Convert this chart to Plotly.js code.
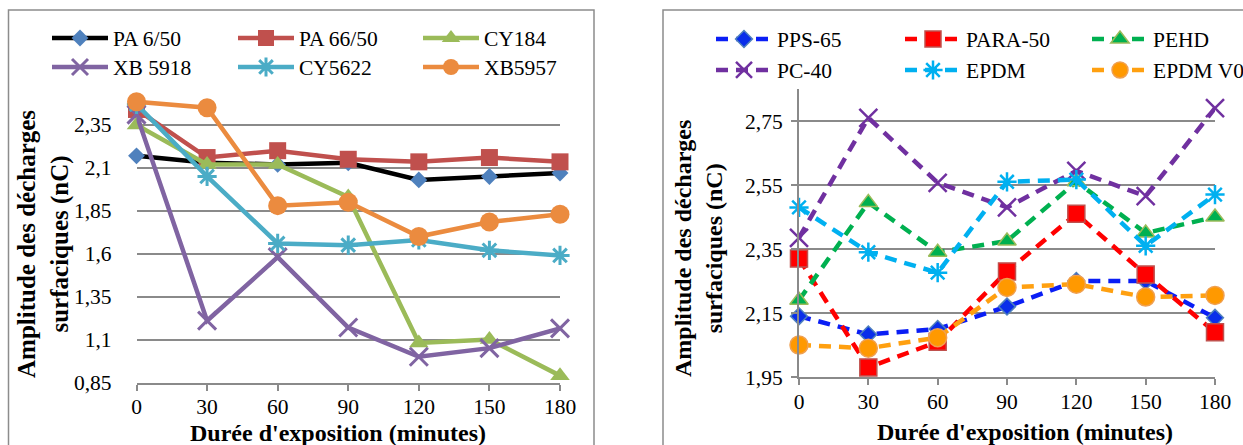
<!DOCTYPE html>
<html>
<head>
<meta charset="utf-8">
<script src="https://cdn.plot.ly/plotly-3.0.1.min.js"></script>
<style>html,body{margin:0;padding:0;background:#fff;overflow:hidden;}#chart{width:1243px;height:445px;}</style>
</head>
<body>
<div id="chart"></div>
<script>
// ---- data ----
const minutes = [0, 30, 60, 90, 120, 150, 180];

// left chart
const pa650  = [2.17, 2.13, 2.12, 2.13, 2.03, 2.05, 2.07];
const pa6650 = [2.44, 2.16, 2.20, 2.15, 2.135, 2.16, 2.135];
const cy184  = [2.35, 2.12, 2.12, 1.93, 1.08, 1.10, 0.89];
const xb5918 = [2.41, 1.21, 1.58, 1.17, 1.00, 1.05, 1.165];
const cy5622 = [2.47, 2.05, 1.66, 1.65, 1.68, 1.62, 1.59];
const xb5957 = [2.485, 2.45, 1.88, 1.90, 1.70, 1.785, 1.83];

// right chart
const pps65  = [2.14, 2.083, 2.10, 2.17, 2.25, 2.25, 2.135];
const para50 = [2.32, 1.98, 2.06, 2.28, 2.46, 2.27, 2.09];
const pehd   = [2.19, 2.495, 2.34, 2.375, 2.56, 2.40, 2.45];
const pc40   = [2.385, 2.76, 2.557, 2.48, 2.594, 2.515, 2.79];
const epdm   = [2.48, 2.34, 2.276, 2.56, 2.567, 2.36, 2.52];
const epdmv0 = [2.05, 2.04, 2.073, 2.23, 2.24, 2.20, 2.205];

const leftTicks  = [0.85, 1.1, 1.35, 1.6, 1.85, 2.1, 2.35];
const leftTickText = ['0,85', '1,1', '1,35', '1,6', '1,85', '2,1', '2,35'];
const rightTicks = [1.95, 2.15, 2.35, 2.55, 2.75];
const rightTickText = ['1,95', '2,15', '2,35', '2,55', '2,75'];

const xTitle = "Durée d'exposition (minutes)";
const yTitle = "Amplitude des décharges<br>surfaciques (nC)";

// ---- styles ----
const W = 1243, H = 445;
const FONT = 'Liberation Serif';
const ITEMW = 56;

function leftTrace(name, y, lineColor, symbol, mColor, mSize, legend, open) {
  const marker = {symbol: symbol, size: mSize, color: mColor};
  if (open) marker.line = {color: mColor, width: 3};
  return {x: minutes, y: y, name: name, type: 'scatter', mode: 'lines+markers',
    xaxis: 'x', yaxis: 'y', legend: legend, cliponaxis: false,
    line: {color: lineColor, width: 4.5}, marker: marker};
}
function rightTrace(name, y, lineColor, symbol, mColor, mLine, mSize, legend, open) {
  const marker = {symbol: symbol, size: mSize, color: mColor,
    line: {color: mLine, width: open ? 2.5 : 1.5}};
  return {x: minutes, y: y, name: name, type: 'scatter', mode: 'lines+markers',
    xaxis: 'x2', yaxis: 'y2', legend: legend, cliponaxis: false,
    line: {color: lineColor, width: 4.5, dash: '12px,8px'}, marker: marker};
}

const data = [
  leftTrace('PA 6/50', pa650, '#000000', 'diamond', '#4F81BD', 13, 'legend'),
  leftTrace('PA 66/50', pa6650, '#C0504D', 'square', '#C0504D', 17, 'legend2'),
  leftTrace('CY184', cy184, '#9BBB59', 'triangle-up', '#9BBB59', 17, 'legend3'),
  leftTrace('XB 5918', xb5918, '#8064A2', 'x-thin-open', '#8064A2', 18, 'legend4', true),
  leftTrace('CY5622', cy5622, '#4BACC6', 'asterisk-open', '#4BACC6', 16, 'legend5', true),
  leftTrace('XB5957', xb5957, '#EB8B3F', 'circle', '#EB8B3F', 19, 'legend6'),
  rightTrace('PPS-65', pps65, '#0A1EF5', 'diamond', '#0A2EEA', '#4F81BD', 13, 'legend7'),
  rightTrace('PARA-50', para50, '#FF0000', 'square', '#FF0000', '#C0504D', 17, 'legend8'),
  rightTrace('PEHD', pehd, '#00B050', 'triangle-up', '#00B050', '#9BBB59', 16, 'legend9'),
  rightTrace('PC-40', pc40, '#7030A0', 'x-thin-open', '#7030A0', '#7030A0', 18, 'legend10', true),
  rightTrace('EPDM', epdm, '#00B0F0', 'asterisk-open', '#00B0F0', '#00B0F0', 16, 'legend11', true),
  rightTrace('EPDM V0', epdmv0, '#FFA010', 'circle', '#FF9900', '#F0A050', 18, 'legend12')
];

// pixel helpers (figure pixels -> paper fractions; margins are zero)
const px = v => v / W;
const py = v => 1 - v / H;

const gridCol = '#8A8A8A';
const tickFont = {family: FONT, size: 21.5, color: '#000'};
const titleFont = {family: FONT, size: 24, color: '#000', weight: 'bold'};
const titleFontL = {family: FONT, size: 25, color: '#000', weight: 'bold'};

function legendCfg(textX, yPix) {
  return {orientation: 'v', x: px(textX - ITEMW - 10), xanchor: 'left', y: py(yPix), yanchor: 'middle',
    font: {family: FONT, size: 21.5, color: '#000'}, bgcolor: 'rgba(0,0,0,0)', borderwidth: 0,
    itemwidth: ITEMW, itemclick: false, itemdoubleclick: false};
}

const layout = {
  width: W, height: H, margin: {l: 0, r: 0, t: 0, b: 0, autoexpand: false},
  paper_bgcolor: '#fff', plot_bgcolor: 'rgba(0,0,0,0)',
  font: {family: FONT, color: '#000'},
  showlegend: true,
  legend:   legendCfg(113, 38),
  legend2:  legendCfg(299, 38),
  legend3:  legendCfg(484, 38),
  legend4:  legendCfg(113, 67),
  legend5:  legendCfg(299, 67),
  legend6:  legendCfg(484, 67),
  legend7:  legendCfg(777, 39),
  legend8:  legendCfg(966, 39),
  legend9:  legendCfg(1153, 39),
  legend10: legendCfg(777, 70),
  legend11: legendCfg(966, 70),
  legend12: legendCfg(1153, 70),
  xaxis: {domain: [px(136.5), px(560)], range: [0, 180], tickvals: minutes, ticktext: minutes.map(String),
    showgrid: false, zeroline: false, showline: true, linecolor: gridCol, linewidth: 2,
    ticks: 'outside', ticklen: 6, tickcolor: gridCol, tickwidth: 2, ticklabelstandoff: -2, tickfont: tickFont, anchor: 'y'},
  yaxis: {domain: [1 - 382.5 / H, 1 - 82 / H], range: [0.85, 2.6], tickvals: leftTicks, ticktext: leftTickText,
    showgrid: true, gridcolor: gridCol, gridwidth: 2, zeroline: false, showline: false,
    ticks: '', ticklabelstandoff: 24, tickfont: tickFont, anchor: 'x'},
  xaxis2: {domain: [px(799), px(1215)], range: [0, 180], tickvals: minutes, ticktext: minutes.map(String),
    showgrid: false, zeroline: false, showline: true, linecolor: gridCol, linewidth: 2,
    ticks: 'outside', ticklen: 6, tickcolor: gridCol, tickwidth: 2, ticklabelstandoff: -2, tickfont: tickFont, anchor: 'y2'},
  yaxis2: {domain: [1 - 377 / H, 1 - 89 / H], range: [1.95, 2.85], tickvals: rightTicks, ticktext: rightTickText,
    showgrid: true, gridcolor: gridCol, gridwidth: 2, zeroline: false, showline: true, linecolor: gridCol, linewidth: 2,
    ticks: 'outside', ticklen: 6, tickcolor: gridCol, tickwidth: 2, ticklabelstandoff: 4, tickfont: tickFont, anchor: 'x2'},
  shapes: [
    {type: 'rect', xref: 'paper', yref: 'paper', x0: px(8.5), x1: px(594), y0: -0.05, y1: py(10),
      line: {color: '#8C8C8C', width: 1.5}, fillcolor: 'rgba(0,0,0,0)', layer: 'below'},
    {type: 'rect', xref: 'paper', yref: 'paper', x0: px(663), x1: 1.05, y0: -0.05, y1: py(10),
      line: {color: '#8C8C8C', width: 1.5}, fillcolor: 'rgba(0,0,0,0)', layer: 'below'}
  ],
  annotations: [
    {text: yTitle, xref: 'paper', yref: 'paper', x: px(43), y: py(244), xanchor: 'center', yanchor: 'middle',
      textangle: -90, showarrow: false, font: titleFontL},
    {text: yTitle, xref: 'paper', yref: 'paper', x: px(699), y: py(249), xanchor: 'center', yanchor: 'middle',
      textangle: -90, showarrow: false, font: titleFont},
    {text: xTitle, xref: 'paper', yref: 'paper', x: px(338), y: py(432.5), xanchor: 'center', yanchor: 'middle',
      showarrow: false, font: titleFont},
    {text: xTitle, xref: 'paper', yref: 'paper', x: px(1025), y: py(431.5), xanchor: 'center', yanchor: 'middle',
      showarrow: false, font: titleFont}
  ]
};

Plotly.newPlot('chart', data, layout, {displayModeBar: false, staticPlot: true});
</script>
</body>
</html>
